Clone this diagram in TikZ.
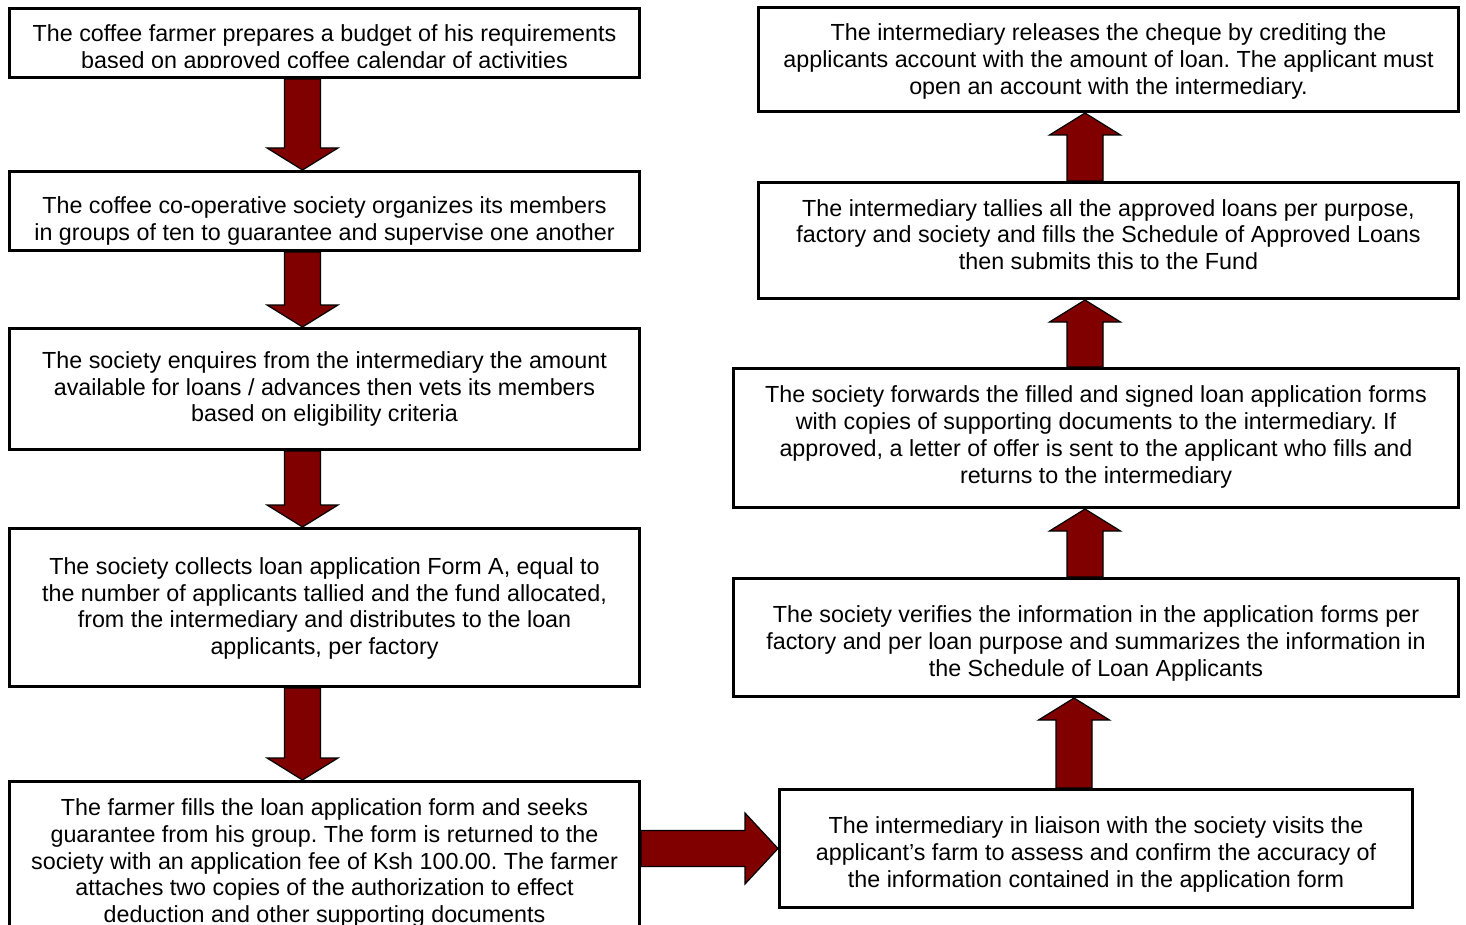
\documentclass[tikz,border=0pt]{standalone}
\usepackage{fontspec}
\setmainfont{Liberation Sans}
\usetikzlibrary{calc}
\frenchspacing

\definecolor{arrowred}{RGB}{128,0,0}

% fat block arrow from tail to tip, optional head length
\newcommand{\fatarrow}[3][22pt]{%
  \coordinate (fa-tail) at #2;
  \coordinate (fa-tip) at #3;
  \coordinate (fa-neck) at ($(fa-tip)!#1!(fa-tail)$);
  \draw[flow] ($(fa-tail)!18pt!90:(fa-tip)$) -- ($(fa-neck)!18pt!90:(fa-tip)$)
    -- ($(fa-neck)!35.5pt!90:(fa-tip)$) -- (fa-tip) -- ($(fa-neck)!35.5pt!-90:(fa-tip)$)
    -- ($(fa-neck)!18pt!-90:(fa-tip)$) -- ($(fa-tail)!18pt!-90:(fa-tip)$) -- cycle;}

\begin{document}
\begin{tikzpicture}[x=1pt,y=-1pt,
    box/.style={draw,line width=3pt,fill=white,inner sep=0pt,anchor=north west},
    txt/.style={inner sep=0pt,align=center,font=\fontsize{23.3}{26.8}\selectfont},
    flow/.style={draw=black,line width=1.2pt,fill=arrowred,line join=miter}]
    \useasboundingbox (0,0) rectangle (1466,925);

    % left column
    \node[box,minimum width=630pt,minimum height=69pt] (b1) at (8,7) {};
    \begin{scope}
        \clip (b1.north west) rectangle ($(b1.south east)+(0,-11.5)$);
        \node[txt] at ($(b1.center)+(0,6)$) {The coffee farmer prepares a budget of his requirements\\based on approved coffee calendar of activities};
    \end{scope}
    \node[box,minimum width=630pt,minimum height=79pt] (b2) at (8,170) {};
    \node[txt] at ($(b2.center)+(0,10)$) {The coffee co-operative society organizes its members\\in groups of ten to guarantee and supervise one another};
    \node[box,minimum width=630pt,minimum height=121pt] (b3) at (8,327) {};
    \node[txt] at (b3.center) {The society enquires from the intermediary the amount\\available for loans / advances then vets its members\\based on eligibility criteria};
    \node[box,minimum width=630pt,minimum height=158pt] (b4) at (8,527) {};
    \node[txt] at ($(b4.center)+(0,1)$) {The society collects loan application Form A, equal to\\the number of applicants tallied and the fund allocated,\\from the intermediary and distributes to the loan\\applicants, per factory};
    \node[box,minimum width=630pt,minimum height=147pt] (b5) at (8,780) {};
    \begin{scope}
        \clip (b5.north west) rectangle ($(b5.south east)+(0,-6)$);
        \node[txt] at ($(b5.center)+(0,8)$) {The farmer fills the loan application form and seeks\\guarantee from his group. The form is returned to the\\society with an application fee of Ksh 100.00. The farmer\\attaches two copies of the authorization to effect\\deduction and other supporting documents};
    \end{scope}

    % right column
    \node[box,minimum width=700pt,minimum height=104pt] (r1) at (757,6) {};
    \node[txt] at ($(r1.center)+(0,2)$) {The intermediary releases the cheque by crediting the\\applicants account with the amount of loan. The applicant must\\open an account with the intermediary.};
    \node[box,minimum width=700pt,minimum height=116pt] (r2) at (757,181) {};
    \node[txt] at ($(r2.center)+(0,-6)$) {The intermediary tallies all the approved loans per purpose,\\factory and society and fills the Schedule of Approved Loans\\then submits this to the Fund};
    \node[box,minimum width=725pt,minimum height=139pt] (r3) at (732,367) {};
    \node[txt] at ($(r3.center)+(0,-1)$) {The society forwards the filled and signed loan application forms\\with copies of supporting documents to the intermediary. If\\approved, a letter of offer is sent to the applicant who fills and\\returns to the intermediary};
    \node[box,minimum width=725pt,minimum height=118pt] (r4) at (732,577) {};
    \node[txt] at ($(r4.center)+(0,6)$) {The society verifies the information in the application forms per\\factory and per loan purpose and summarizes the information in\\the Schedule of Loan Applicants};
    \node[box,minimum width=633pt,minimum height=118pt] (r5) at (778,788) {};
    \node[txt] at ($(r5.center)+(0,6)$) {The intermediary in liaison with the society visits the\\applicant’s farm to assess and confirm the accuracy of\\the information contained in the application form};

    % arrows
    \coordinate (rcol) at (1085,0);
    \fatarrow{($(b1.south)+(-22,0)$)}{($(b2.north)+(-22,0)$)}
    \fatarrow{($(b2.south)+(-22,0)$)}{($(b3.north)+(-22,0)$)}
    \fatarrow{($(b3.south)+(-22,0)$)}{($(b4.north)+(-22,0)$)}
    \fatarrow{($(b4.south)+(-22,0)$)}{($(b5.north)+(-22,0)$)}
    \fatarrow[33pt]{(b5.east |- r5.west)}{(r5.west)}
    \fatarrow{($(r5.north)+(-22,0)$)}{($(r4.south)+(-22,0)$)}
    \fatarrow{(r4.north -| rcol)}{(r3.south -| rcol)}
    \fatarrow{(r3.north -| rcol)}{(r2.south -| rcol)}
    \fatarrow{(r2.north -| rcol)}{(r1.south -| rcol)}
\end{tikzpicture}
\end{document}
